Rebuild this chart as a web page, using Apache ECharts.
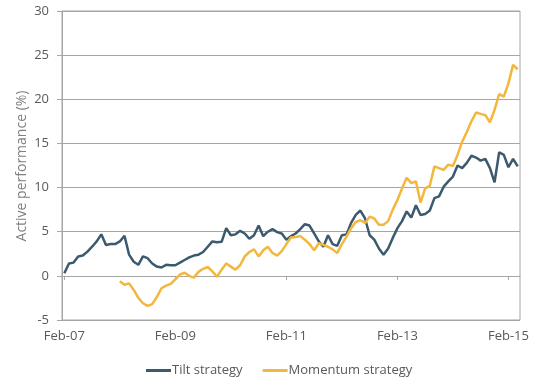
<!DOCTYPE html>
<html>
<head>
<meta charset="utf-8">
<script src="https://cdn.jsdelivr.net/npm/echarts@6/dist/echarts.min.js"></script>
<style>html,body{margin:0;padding:0;background:#fff}#c{width:537px;height:382px}</style>
</head>
<body>
<div id="c"></div>
<script>
// Monthly categories Feb-07 .. Apr-15
const monthNames = ['Jan','Feb','Mar','Apr','May','Jun','Jul','Aug','Sep','Oct','Nov','Dec'];
const categories = [];
for (let y = 7; y <= 15; y++) {
  for (let m = 0; m < 12; m++) {
    if (y === 7 && m < 1) continue;
    if (y === 15 && m > 3) continue;
    categories.push(monthNames[m] + '-' + (y < 10 ? '0' + y : '' + y));
  }
}
const tiltValues = [
  0.3, 1.4, 1.5, 2.2, 2.3, 2.75, 3.3, 3.9, 4.7, 3.5,
  3.6, 3.6, 3.9, 4.55, 2.4, 1.6, 1.25, 2.2, 2.0, 1.4,
  1.05, 0.95, 1.25, 1.2, 1.2, 1.5, 1.8, 2.1, 2.3, 2.4,
  2.7, 3.3, 3.9, 3.8, 3.85, 5.4, 4.6, 4.7, 5.1, 4.8,
  4.2, 4.6, 5.7, 4.5, 5.0, 5.3, 4.95, 4.8, 4.1, 4.5,
  4.8, 5.3, 5.85, 5.7, 4.8, 3.9, 3.3, 4.6, 3.6, 3.4,
  4.6, 4.7, 6.0, 6.9, 7.4, 6.5, 4.6, 4.1, 3.1, 2.4,
  3.1, 4.3, 5.4, 6.2, 7.3, 6.6, 8.0, 6.9, 7.0, 7.4,
  8.8, 9.0, 10.1, 10.7, 11.25, 12.5, 12.2, 12.8, 13.6, 13.4,
  13.05, 13.25, 12.2, 10.6, 14.0, 13.7, 12.3, 13.25, 12.4
];
const momentumValues = [
  null, null, null, null, null, null, null, null, null, null,
  null, null, -0.6, -1.0, -0.85, -1.6, -2.5, -3.1, -3.4, -3.2,
  -2.4, -1.4, -1.1, -0.9, -0.4, 0.15, 0.35, 0.0, -0.2, 0.45,
  0.8, 1.0, 0.5, -0.1, 0.7, 1.4, 1.05, 0.7, 1.2, 2.2,
  2.7, 3.0, 2.2, 2.9, 3.3, 2.6, 2.3, 2.8, 3.6, 4.35,
  4.4, 4.5, 4.1, 3.6, 2.9, 3.7, 3.5, 3.3, 3.0, 2.6,
  3.6, 4.45, 5.4, 6.1, 6.3, 6.0, 6.7, 6.5, 5.8, 5.8,
  6.2, 7.5, 8.6, 9.9, 11.1, 10.5, 10.7, 8.3, 9.9, 10.2,
  12.4, 12.2, 12.0, 12.6, 12.45, 13.7, 15.2, 16.3, 17.5, 18.5,
  18.35, 18.2, 17.4, 18.8, 20.6, 20.3, 21.8, 23.9, 23.4
];
const seriesNames = ['Tilt strategy', 'Momentum strategy'];
const yAxisTitle = 'Active performance (%)';
const yTicks = { min: -5, max: 30, interval: 5 };

const FONT = '"Open Sans", sans-serif';
const chart = echarts.init(document.getElementById('c'), null, { renderer: 'canvas' });
chart.setOption({
  animation: false,
  backgroundColor: '#ffffff',
  grid: { left: 62, right: 17, top: 11, bottom: 62, show: true, borderColor: '#a6a6a6', borderWidth: 1, backgroundColor: 'transparent' },
  graphic: [{
    type: 'text',
    x: 22, y: 166,
    rotation: Math.PI / 2,
    style: {
      text: yAxisTitle,
      font: '14px "Open Sans", sans-serif',
      fill: '#7f7f7f',
      align: 'center',
      verticalAlign: 'middle'
    }
  }],
  legend: {
    data: seriesNames,
    top: 359,
    left: 141,
    icon: 'rect',
    itemWidth: 25,
    itemHeight: 3,
    itemGap: 20,
    textStyle: { fontFamily: FONT, fontSize: 13, color: '#595959', padding: [0, 0, 0, -4] }
  },
  xAxis: [
    {
      type: 'category',
      data: categories,
      boundaryGap: true,
      axisLine: { onZero: true, lineStyle: { color: '#a6a6a6', width: 1 } },
      axisTick: { show: true, interval: 23, alignWithLabel: true, length: 4, lineStyle: { color: '#a6a6a6' } },
      axisLabel: { show: false },
      splitLine: { show: false }
    },
    {
      type: 'category',
      data: categories,
      boundaryGap: true,
      position: 'bottom',
      axisLine: { show: false, onZero: false },
      axisTick: { show: false },
      axisLabel: { interval: 23, fontFamily: FONT, fontSize: 13, color: '#595959', margin: 10 },
      splitLine: { show: false }
    }
  ],
  yAxis: {
    type: 'value',
    min: yTicks.min,
    max: yTicks.max,
    interval: yTicks.interval,
    axisLine: { show: true, lineStyle: { color: '#a6a6a6' } },
    axisTick: { show: true, length: 5, lineStyle: { color: '#a6a6a6' } },
    axisLabel: { fontFamily: FONT, fontSize: 13, color: '#595959', margin: 13 },
    splitLine: { lineStyle: { color: '#a6a6a6', width: 1 } }
  },
  series: [
    {
      name: seriesNames[0], type: 'line', data: tiltValues, xAxisIndex: 0,
      showSymbol: false, symbol: 'none',
      lineStyle: { color: '#3b5a6d', width: 2.5 }, itemStyle: { color: '#3b5a6d' }
    },
    {
      name: seriesNames[1], type: 'line', data: momentumValues, xAxisIndex: 0,
      showSymbol: false, symbol: 'none', connectNulls: false,
      lineStyle: { color: '#f2b73c', width: 2.5 }, itemStyle: { color: '#f2b73c' }
    }
  ]
});
</script>
</body>
</html>
